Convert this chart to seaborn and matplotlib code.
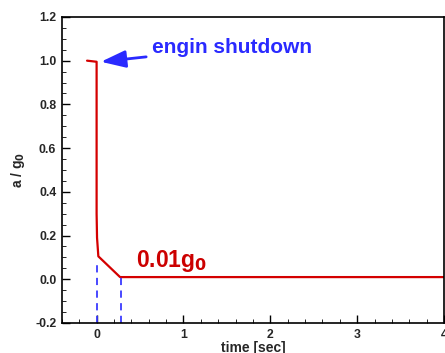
import matplotlib
matplotlib.use("Agg")
import matplotlib.pyplot as plt
import seaborn as sns
import pandas as pd
from matplotlib.ticker import MultipleLocator, FormatStrFormatter

# acceleration history (normalised by g0) around engine shutdown
time = [-0.11, 0.0, 0.0, 0.005, 0.02, 0.27, 4.0]
accel = [1.0, 0.995, 0.30, 0.19, 0.105, 0.01, 0.01]

# dashed markers for the shutdown and settling instants
mark_t = [0.0, 0.28]
mark_top = [0.08, 0.01]

y_min, y_max = -0.2, 1.2
x_min, x_max = -0.4, 4.0

sns.set_theme(style="white")
plt.rcParams["font.family"] = ["Liberation Sans", "DejaVu Sans"]

fig = plt.figure(figsize=(4.45, 3.53), dpi=100)
ax = fig.add_axes([0.139, 0.085, 0.859, 0.867])

df = pd.DataFrame({"t": time, "a": accel})
sns.lineplot(data=df, x="t", y="a", ax=ax, color="#d40000", lw=1.6,
             sort=False, estimator=None)

for t, top in zip(mark_t, mark_top):
    ax.plot([t, t], [y_min, top], color="#3a3aff", lw=1.3, ls=(0, (4, 3)))

ax.set_xlim(x_min, x_max)
ax.set_ylim(y_min, y_max)
ax.xaxis.set_major_locator(MultipleLocator(1))
ax.xaxis.set_minor_locator(MultipleLocator(0.2))
ax.yaxis.set_major_locator(MultipleLocator(0.2))
ax.yaxis.set_minor_locator(MultipleLocator(0.05))
ax.yaxis.set_major_formatter(FormatStrFormatter("%.1f"))

ax.tick_params(which="both", direction="in", color="black",
               bottom=True, left=True, top=False, right=False)
ax.tick_params(which="major", length=6, width=1, labelsize=8.8, pad=4)
ax.tick_params(which="minor", length=3, width=0.6)
for lab in ax.get_xticklabels() + ax.get_yticklabels():
    lab.set_fontweight("bold")
for s in ax.spines.values():
    s.set_color("black")
    s.set_linewidth(1.2)

ax.set_xlabel("time [sec]", fontsize=10, fontweight="bold", labelpad=0)
ax.set_ylabel("a / g$_\\mathbf{0}$", fontsize=10, fontweight="bold", labelpad=6)

ax.annotate("engin shutdown", xy=(0.05, 0.995), xytext=(0.64, 1.06),
            fontsize=15, fontweight="bold", color="#2a2aff",
            va="center", ha="left",
            arrowprops=dict(arrowstyle="-|>,head_length=1.0,head_width=0.35",
                            color="#2a2aff", lw=2, shrinkA=2, shrinkB=0))

ax.text(0.45, 0.025, "0.01g$_\\mathbf{0}$", fontsize=16.5, fontweight="bold",
        color="#cc0000", ha="left", va="bottom")

fig.savefig("out.png", dpi=100)
